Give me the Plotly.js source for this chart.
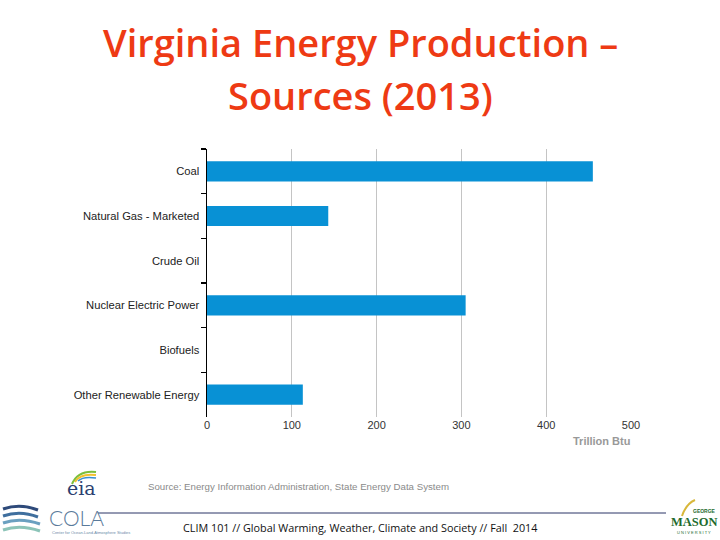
<!DOCTYPE html>
<html>
<head>
<meta charset="utf-8">
<script src="https://cdn.plot.ly/plotly-3.0.1.min.js"></script>
<style>
html,body{margin:0;padding:0;background:#fff;}
#chart{width:720px;height:540px;}
</style>
</head>
<body>
<div id="chart"></div>
<script>
// Data (Trillion Btu, 2013)
const categories = ["Coal", "Natural Gas - Marketed", "Crude Oil", "Nuclear Electric Power", "Biofuels", "Other Renewable Energy"];
const values = [455, 143, 0, 305, 0, 113];
const xTickValues = [0, 100, 200, 300, 400, 500];

// layout helpers: pixel -> paper coords
const L = 207, R = 89, T = 149, B = 123;
const W = 720 - L - R, H = 540 - T - B;
const px = x => (x - L) / W;
const py = y => (540 - B - y) / H;

const trace = {
  type: 'bar',
  orientation: 'h',
  y: categories,
  x: values,
  width: 0.45,
  marker: {color: '#0891d5'},
  hoverinfo: 'x+y'
};

const titleFont = {family: 'Open Sans', size: 38, weight: 600, color: '#ee3a14'};

const annotations = [
  {text: 'Virginia Energy Production –', x: px(360), y: py(42), xref: 'paper', yref: 'paper', showarrow: false,
   xanchor: 'center', yanchor: 'middle', font: titleFont},
  {text: 'Sources (2013)', x: px(360), y: py(95), xref: 'paper', yref: 'paper', showarrow: false,
   xanchor: 'center', yanchor: 'middle', font: titleFont},
  {text: '<b>Trillion Btu</b>', x: px(632), y: py(441), xref: 'paper', yref: 'paper', showarrow: false,
   xanchor: 'right', yanchor: 'middle', font: {family: 'Liberation Sans', size: 11, color: '#999999'}},
  {text: 'Source: Energy Information Administration, State Energy Data System', x: px(146), y: py(486), xref: 'paper', yref: 'paper', showarrow: false,
   xanchor: 'left', yanchor: 'middle', font: {family: 'Liberation Sans', size: 9.7, color: '#8a8a8a'}},
  {text: 'eia', x: px(82), y: py(488), xref: 'paper', yref: 'paper', showarrow: false,
   xanchor: 'center', yanchor: 'middle', font: {family: 'DejaVu Serif', size: 19, color: '#2b3f70'}},
  {text: 'CLIM 101 // Global Warming, Weather, Climate and Society // Fall  2014', x: px(360), y: py(527), xref: 'paper', yref: 'paper', showarrow: false,
   xanchor: 'center', yanchor: 'middle', font: {family: 'Open Sans', size: 10.8, color: '#111111'}},
  {text: 'COLA', x: px(47), y: py(517), xref: 'paper', yref: 'paper', showarrow: false,
   xanchor: 'left', yanchor: 'middle', font: {family: 'Lato', size: 21, weight: 300, color: '#5a7a9a'}},
  {text: 'Center for Ocean-Land-Atmosphere Studies', x: px(50), y: py(532), xref: 'paper', yref: 'paper', showarrow: false,
   xanchor: 'left', yanchor: 'middle', font: {family: 'Liberation Sans', size: 4, color: '#6a8aa8'}},
  {text: '<b>MASON</b>', x: px(694), y: py(522), xref: 'paper', yref: 'paper', showarrow: false,
   xanchor: 'center', yanchor: 'middle', font: {family: 'Liberation Serif', size: 12.5, color: '#1e6b2e'}},
  {text: '<b>GEORGE</b>', x: px(704), y: py(511), xref: 'paper', yref: 'paper', showarrow: false,
   xanchor: 'center', yanchor: 'middle', font: {family: 'Liberation Sans', size: 5, color: '#1e6b2e'}},
  {text: 'U N I V E R S I T Y', x: px(694), y: py(532), xref: 'paper', yref: 'paper', showarrow: false,
   xanchor: 'center', yanchor: 'middle', font: {family: 'Liberation Sans', size: 4, color: '#1e6b2e'}}
];

const shapes = [
  // footer rule
  {type: 'line', xref: 'paper', yref: 'paper', x0: px(98), x1: px(666), y0: py(513), y1: py(513), line: {color: '#2a3566', width: 1}},
  // eia arcs
  {type: 'path', xref: 'paper', yref: 'paper', path: `M ${px(72)} ${py(484)} Q ${px(78)} ${py(470)} ${px(96)} ${py(472)}`, line: {color: '#7cbf3c', width: 2}},
  {type: 'path', xref: 'paper', yref: 'paper', path: `M ${px(75)} ${py(482)} Q ${px(80)} ${py(473)} ${px(96)} ${py(475)}`, line: {color: '#f2c12e', width: 2}},
  {type: 'path', xref: 'paper', yref: 'paper', path: `M ${px(78)} ${py(481)} Q ${px(83)} ${py(476)} ${px(96)} ${py(478)}`, line: {color: '#3a8fd0', width: 1.5}},
  // COLA waves
  {type: 'path', xref: 'paper', yref: 'paper', path: `M ${px(3)} ${py(509)} Q ${px(20)} ${py(503)} ${px(38)} ${py(510)}`, line: {color: '#2e4a7a', width: 3}},
  {type: 'path', xref: 'paper', yref: 'paper', path: `M ${px(3)} ${py(516)} Q ${px(20)} ${py(510)} ${px(38)} ${py(517)}`, line: {color: '#3f6f9e', width: 3}},
  {type: 'path', xref: 'paper', yref: 'paper', path: `M ${px(3)} ${py(523)} Q ${px(20)} ${py(517)} ${px(40)} ${py(524)}`, line: {color: '#6aa0c0', width: 3}},
  {type: 'path', xref: 'paper', yref: 'paper', path: `M ${px(3)} ${py(530)} Q ${px(20)} ${py(524)} ${px(40)} ${py(531)}`, line: {color: '#8cc4b8', width: 3}},
  // Mason quill
  {type: 'path', xref: 'paper', yref: 'paper', path: `M ${px(682)} ${py(516)} Q ${px(686)} ${py(504)} ${px(695)} ${py(500)}`, line: {color: '#d8b73a', width: 2}}
];

const layout = {
  width: 720, height: 540,
  margin: {l: L, r: R, t: T, b: B, pad: 0},
  paper_bgcolor: '#ffffff', plot_bgcolor: '#ffffff',
  showlegend: false,
  xaxis: {
    range: [0, 500],
    tickvals: xTickValues,
    showgrid: true, gridcolor: '#c4c4c4', gridwidth: 1,
    zeroline: false, showline: false, ticks: '',
    tickfont: {family: 'Liberation Sans', size: 11, color: '#333333'},
    fixedrange: true
  },
  yaxis: {
    type: 'category',
    autorange: 'reversed',
    showgrid: false, zeroline: false,
    showline: true, linecolor: '#000000', linewidth: 1.5,
    ticks: 'outside', tickson: 'boundaries', ticklen: 5, tickcolor: '#000000', tickwidth: 1.5,
    ticklabelstandoff: 4,
    tickfont: {family: 'Liberation Sans', size: 11.2, color: '#222222'},
    fixedrange: true
  },
  annotations: annotations,
  shapes: shapes
};

Plotly.newPlot('chart', [trace], layout, {displayModeBar: false, staticPlot: true});
</script>
</body>
</html>
